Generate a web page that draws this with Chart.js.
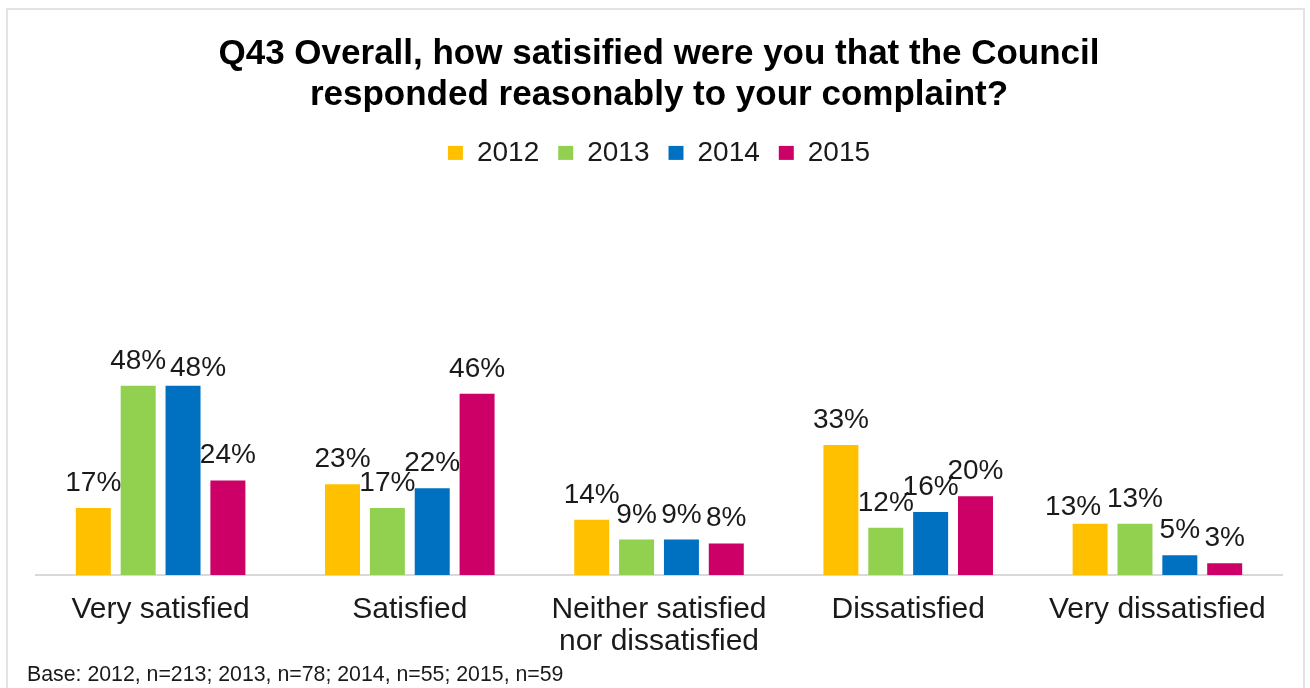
<!DOCTYPE html>
<html>
<head>
<meta charset="utf-8">
<script src="https://cdn.jsdelivr.net/npm/chart.js@4.4.1/dist/chart.umd.min.js"></script>
<style>
  html, body { margin: 0; padding: 0; background: #ffffff; }
  #wrap { position: absolute; left: 0; top: 0; width: 1310px; height: 688px; }
  #frame { position: absolute; left: 6px; top: 8px; width: 1299px; height: 700px;
           border: 2px solid #e3e3e3; box-sizing: border-box; pointer-events: none; }
  canvas { position: absolute; left: 0; top: 0; }
</style>
</head>
<body>
<div id="wrap">
  <canvas id="c" width="1310" height="688"></canvas>
  <div id="frame"></div>
</div>
<script>
const categories = ["Very satisfied", "Satisfied", ["Neither satisfied", "nor dissatisfied"], "Dissatisfied", "Very dissatisfied"];
const seriesNames = ["2012", "2013", "2014", "2015"];
const values2012 = [17, 23, 14, 33, 13];
const values2013 = [48, 17, 9, 12, 13];
const values2014 = [48, 22, 9, 16, 5];
const values2015 = [24, 46, 8, 20, 3];
const seriesColors = ["#FFC000", "#92D050", "#0070C0", "#CC0066"];
const titleLines = ["Q43 Overall, how satisified were you that the Council", "responded reasonably to your complaint?"];
const footnote = "Base: 2012, n=213; 2013, n=78; 2014, n=55; 2015, n=59";

// manual label nudges (series index, category index, dx, dy) as in the original
const labelNudges = [[2, 0, 15, 7], [0, 4, -17, 8]];

const allValues = [values2012, values2013, values2014, values2015];
const FONT = '"Liberation Sans", Arial, sans-serif';

const valueLabels = {
  id: 'valueLabels',
  afterDatasetsDraw(chart) {
    const ctx = chart.ctx;
    ctx.save();
    ctx.font = '28px ' + FONT;
    ctx.fillStyle = '#1a1a1a';
    ctx.textAlign = 'center';
    ctx.textBaseline = 'alphabetic';
    chart.data.datasets.forEach((ds, i) => {
      const meta = chart.getDatasetMeta(i);
      meta.data.forEach((bar, j) => {
        let dx = 0, dy = 0;
        labelNudges.forEach(n => { if (n[0] === i && n[1] === j) { dx = n[2]; dy = n[3]; } });
        ctx.fillText(ds.data[j] + '%', bar.x + dx, bar.y - 17 + dy);
      });
    });
    ctx.restore();
  }
};

const footnotePlugin = {
  id: 'footnote',
  afterDraw(chart) {
    const ctx = chart.ctx;
    ctx.save();
    ctx.font = '21.3px ' + FONT;
    ctx.fillStyle = '#1a1a1a';
    ctx.textAlign = 'left';
    ctx.textBaseline = 'middle';
    ctx.fillText(footnote, 27, chart.height - 13);
    ctx.restore();
  }
};

new Chart(document.getElementById('c'), {
  type: 'bar',
  data: {
    labels: categories,
    datasets: seriesNames.map((n, i) => ({
      label: n,
      data: allValues[i],
      backgroundColor: seriesColors[i],
      borderWidth: 0,
      categoryPercentage: 0.72,
      barPercentage: 0.78
    }))
  },
  options: {
    responsive: false,
    animation: false,
    devicePixelRatio: 1,
    layout: { padding: { left: 36, right: 28, top: 34, bottom: 20 } },
    plugins: {
      tooltip: { enabled: false },
      title: {
        display: true,
        text: titleLines,
        color: '#000',
        font: { family: FONT, size: 35, weight: 'bold', lineHeight: 1.17 },
        padding: { top: 0, bottom: 4 }
      },
      legend: {
        display: true,
        position: 'top',
        labels: {
          color: '#1a1a1a',
          font: { family: FONT, size: 28 },
          boxWidth: 15,
          boxHeight: 14,
          padding: 19
        }
      }
    },
    scales: {
      x: {
        grid: { display: false },
        border: { display: true, color: '#d9d9d9', width: 2 },
        ticks: {
          color: '#1a1a1a',
          font: { family: FONT, size: 30, lineHeight: 1.05 },
          maxRotation: 0,
          autoSkip: false,
          padding: 11
        }
      },
      y: {
        display: false,
        min: 0,
        max: 101
      }
    }
  },
  plugins: [valueLabels, footnotePlugin]
});
</script>
</body>
</html>
